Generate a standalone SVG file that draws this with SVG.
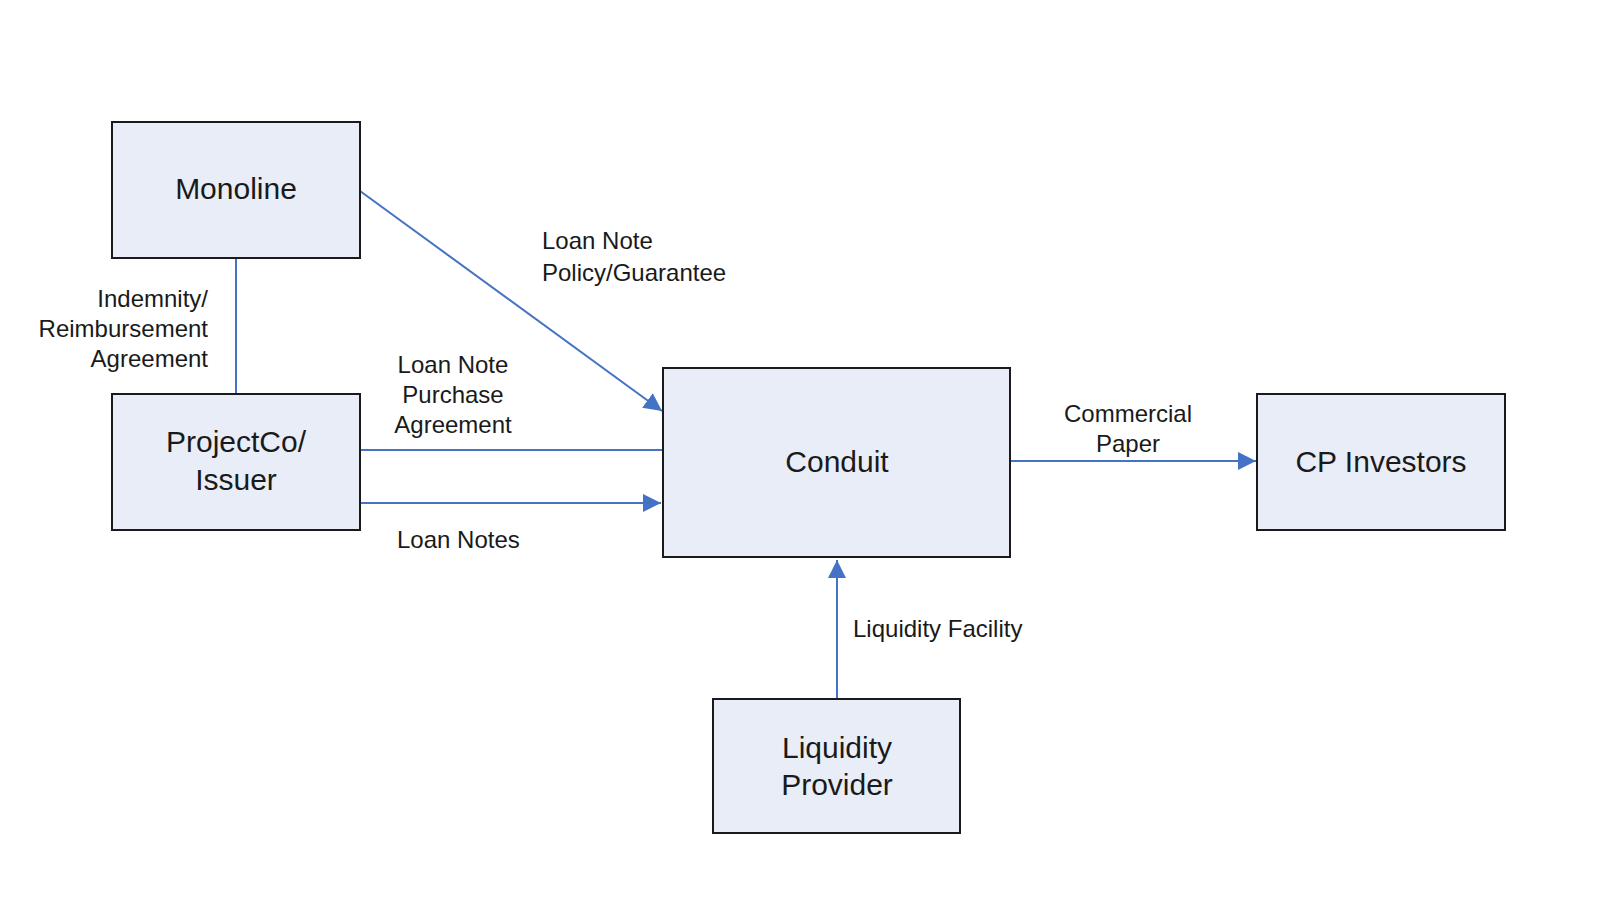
<svg xmlns="http://www.w3.org/2000/svg" width="1600" height="904" viewBox="0 0 1600 904">
<defs>
<marker id="ar" viewBox="0 0 10 10" refX="10" refY="5" markerWidth="18" markerHeight="18" markerUnits="userSpaceOnUse" orient="auto"><path d="M0,0 L10,5 L0,10 z" fill="#4472c4"/></marker>
<style>
.box{fill:#e9edf7;stroke:#1a1a1a;stroke-width:2}
.bt{font-family:"Liberation Sans",Arial,sans-serif;font-size:30px;fill:#1a1a1a;text-anchor:middle}
.lt{font-family:"Liberation Sans",Arial,sans-serif;font-size:24px;fill:#1a1a1a}
.c{fill:none;stroke:#4472c4;stroke-width:2}
</style>
</defs>
<rect width="1600" height="904" fill="#fff"/>
<g id="connectors">
<line class="c" x1="360" y1="191" x2="662" y2="411" marker-end="url(#ar)"/>
<line class="c" x1="236" y1="258" x2="236" y2="394"/>
<line class="c" x1="360" y1="450" x2="663" y2="450"/>
<path class="c" d="M357,528 L357,503 L661,503" marker-end="url(#ar)"/>
<line class="c" x1="1010" y1="461" x2="1256" y2="461" marker-end="url(#ar)"/>
<line class="c" x1="837" y1="699" x2="837" y2="560" marker-end="url(#ar)"/>
</g>
<g id="labels">
<text class="lt" x="542" y="249">Loan Note</text>
<text class="lt" x="542" y="281">Policy/Guarantee</text>
<text class="lt" x="208" y="307" text-anchor="end">Indemnity/</text>
<text class="lt" x="208" y="337" text-anchor="end">Reimbursement</text>
<text class="lt" x="208" y="367" text-anchor="end">Agreement</text>
<text class="lt" x="453" y="373" text-anchor="middle">Loan Note</text>
<text class="lt" x="453" y="403" text-anchor="middle">Purchase</text>
<text class="lt" x="453" y="433" text-anchor="middle">Agreement</text>
<text class="lt" x="397" y="548">Loan Notes</text>
<text class="lt" x="1128" y="422" text-anchor="middle">Commercial</text>
<text class="lt" x="1128" y="452" text-anchor="middle">Paper</text>
<text class="lt" x="853" y="637">Liquidity Facility</text>
</g>
<g id="monoline"><rect class="box" x="112" y="122" width="248" height="136"/><text class="bt" x="236" y="199">Monoline</text></g>
<g id="projectco"><rect class="box" x="112" y="394" width="248" height="136"/><text class="bt" x="236" y="452">ProjectCo/</text><text class="bt" x="236" y="490">Issuer</text></g>
<g id="conduit"><rect class="box" x="663" y="368" width="347" height="189"/><text class="bt" x="837" y="472">Conduit</text></g>
<g id="cpinvestors"><rect class="box" x="1257" y="394" width="248" height="136"/><text class="bt" x="1381" y="472">CP Investors</text></g>
<g id="liquidity"><rect class="box" x="713" y="699" width="247" height="134"/><text class="bt" x="837" y="758">Liquidity</text><text class="bt" x="837" y="795">Provider</text></g>
</svg>
